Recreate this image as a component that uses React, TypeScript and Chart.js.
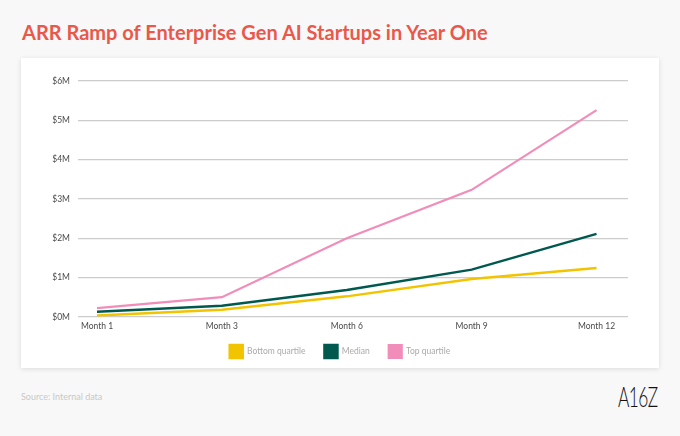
import React, { useEffect, useRef } from "react";
import { Chart, registerables } from "chart.js";

Chart.register(...registerables);

const categories = ["Month 1", "Month 3", "Month 6", "Month 9", "Month 12"];
const bottomQuartile = [0.03, 0.18, 0.52, 0.96, 1.24];
const median = [0.13, 0.28, 0.68, 1.2, 2.11];
const topQuartile = [0.22, 0.5, 2.0, 3.23, 5.26];
const yTicks = [0, 1, 2, 3, 4, 5, 6];

const FONT = "Lato, 'Open Sans', sans-serif";

// nudges the bottom legend up so it sits closer to the x-axis labels
const legendLift = {
  id: "legendLift",
  afterLayout(chart: any) {
    if (chart.legend) {
      chart.legend.top -= 9;
      chart.legend.bottom -= 9;
    }
  },
};

export default function App() {
  const canvasRef = useRef<HTMLCanvasElement | null>(null);

  useEffect(() => {
    if (!canvasRef.current) return;
    const toPts = (arr: number[]) => arr.map((v, i) => ({ x: i, y: v }));
    const chart = new Chart(canvasRef.current, {
      type: "line",
      data: {
        datasets: [
          {
            label: "Bottom quartile",
            data: toPts(bottomQuartile),
            borderColor: "#F2C400",
            backgroundColor: "#F2C400",
            borderWidth: 2.5,
            pointRadius: 0,
            tension: 0,
          },
          {
            label: "Median",
            data: toPts(median),
            borderColor: "#00594F",
            backgroundColor: "#00594F",
            borderWidth: 2.5,
            pointRadius: 0,
            tension: 0,
          },
          {
            label: "Top quartile",
            data: toPts(topQuartile),
            borderColor: "#F28CB9",
            backgroundColor: "#F28CB9",
            borderWidth: 2.2,
            pointRadius: 0,
            tension: 0,
          },
        ],
      },
      plugins: [legendLift],
      options: {
        animation: false,
        responsive: false,
        layout: { padding: { top: 23, left: 31, right: 31, bottom: 1 } },
        plugins: {
          tooltip: { enabled: false },
          legend: {
            position: "bottom",
            labels: {
              boxWidth: 13,
              boxHeight: 13,
              padding: 19,
              color: "#aaaaaa",
              font: { family: FONT, size: 8.5 },
            },
          },
        },
        scales: {
          x: {
            type: "linear",
            min: -0.152,
            max: 4.252,
            afterBuildTicks: (axis: any) => {
              axis.ticks = categories.map((_, i) => ({ value: i }));
            },
            grid: { display: false, drawTicks: false },
            border: { display: false },
            ticks: {
              padding: 4,
              color: "#4a4a4a",
              font: { family: FONT, size: 8.5 },
              maxRotation: 0,
              autoSkip: false,
              callback: (v: any) => categories[Math.round(Number(v))] ?? "",
            },
          },
          y: {
            min: 0,
            max: 6,
            afterBuildTicks: (axis: any) => {
              axis.ticks = yTicks.map((v) => ({ value: v }));
            },
            afterFit: (axis: any) => {
              axis.width = 26;
            },
            grid: { color: "#cccccc", lineWidth: 1.2, drawTicks: false },
            border: { display: false },
            ticks: {
              padding: 8,
              color: "#4a4a4a",
              font: { family: FONT, size: 8.5 },
              callback: (v: any) => `$${v}M`,
            },
          },
        },
      },
    });
    return () => chart.destroy();
  }, []);

  return (
    <div
      style={{
        position: "fixed",
        left: 0,
        top: 0,
        width: 680,
        height: 436,
        background: "#f8f8f8",
        overflow: "hidden",
        fontFamily: FONT,
      }}
    >
      <div
        style={{
          position: "absolute",
          left: 22,
          top: 20,
          fontSize: 20,
          lineHeight: "24px",
          fontWeight: 700,
          color: "#E9584B",
          whiteSpace: "nowrap",
        }}
      >
        ARR Ramp of Enterprise Gen AI Startups in Year One
      </div>
      <div
        style={{
          position: "absolute",
          left: 21,
          top: 58,
          width: 638,
          height: 310,
          background: "#ffffff",
          boxShadow: "0 1px 5px rgba(0,0,0,0.12)",
        }}
      >
        <canvas
          ref={canvasRef}
          width={638}
          height={320}
          style={{ width: 638, height: 320, display: "block", position: "absolute", left: 0, top: 0 }}
        />
      </div>
      <div
        style={{
          position: "absolute",
          left: 21,
          top: 391,
          fontSize: 9,
          lineHeight: "12px",
          color: "#c8c8c8",
          whiteSpace: "nowrap",
        }}
      >
        Source: Internal data
      </div>
      <div
        style={{
          position: "absolute",
          left: 618,
          top: 379,
          fontSize: 28,
          lineHeight: "34px",
          fontWeight: 300,
          color: "#111111",
          letterSpacing: -1,
          transform: "scaleX(0.62)",
          transformOrigin: "left top",
          whiteSpace: "nowrap",
        }}
      >
        A16Z
      </div>
    </div>
  );
}
